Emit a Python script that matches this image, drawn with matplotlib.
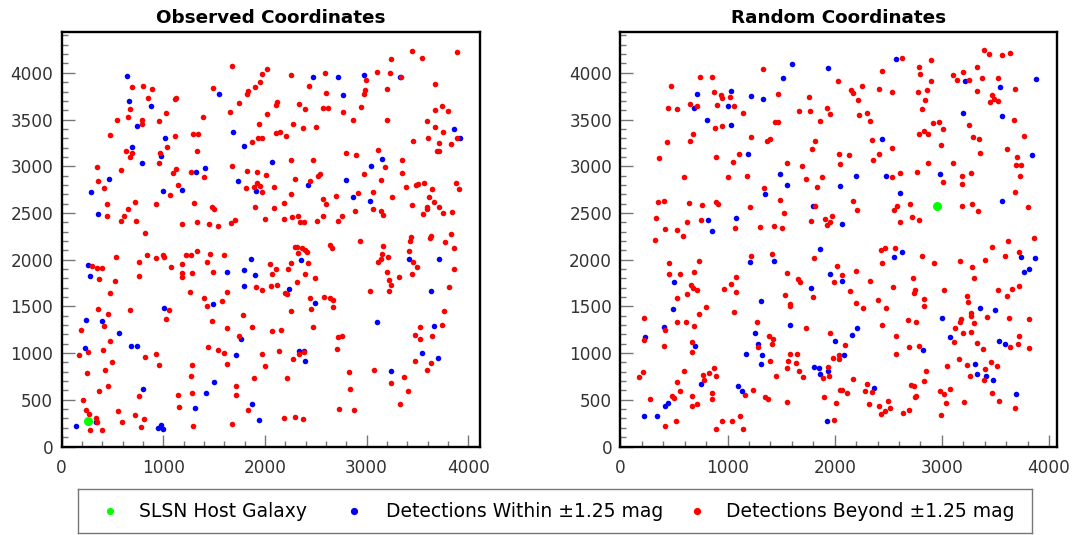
import matplotlib
matplotlib.use("Agg")
import matplotlib.pyplot as plt
from matplotlib.ticker import MultipleLocator

plt.rcParams['font.family'] = ['DejaVu Sans']

# ---- Observed coordinates (left panel) ----
obs_host = (260, 270)

obs_blue = [
    (640, 3970), (660, 3700), (880, 3650), (740, 3430), (1020, 3300), (690, 3210), (980, 3110),
    (790, 3040), (470, 2860), (290, 2720), (1000, 2740), (1180, 2750), (1320, 2940), (1410, 2980),
    (1550, 3770), (1690, 3370), (1790, 3220), (1730, 2840), (1910, 2730), (360, 2490),
    (2470, 3960), (2720, 3960), (2970, 3980), (3330, 3960), (2770, 3760), (3860, 3400), (3920, 3300),
    (2070, 3050), (3150, 3080), (3040, 3000), (2420, 2800), (2800, 2850), (2870, 2670), (3030, 2630),
    (260, 1940), (280, 1830), (1860, 2010), (1630, 1870), (1790, 1890), (1900, 1840), (1790, 1720),
    (1490, 1530), (1010, 1480), (240, 1350), (400, 1340), (560, 1220), (1760, 1150), (230, 1050),
    (680, 1080), (740, 1080), (1710, 980), (1500, 690), (800, 620), (1420, 570), (1310, 410),
    (1870, 450), (1940, 280), (140, 220), (340, 260), (950, 200), (980, 230), (1000, 190),
    (2350, 2000), (3420, 2010), (3710, 2010), (2240, 1690), (2490, 1540), (3630, 1660), (3100, 1330),
    (3660, 1290), (2330, 1020), (2380, 1020), (2390, 920), (3540, 1000), (3700, 950), (3240, 810),
]

obs_red = [
    (1680, 4070), (1970, 3990), (690, 3850), (800, 3860), (890, 3830), (1490, 3840), (1950, 3900),
    (1900, 3850), (1830, 3810), (1820, 3770), (850, 3730), (1120, 3730), (1110, 3720), (1740, 3680),
    (670, 3610), (1030, 3570), (1660, 3580), (650, 3530), (540, 3490), (790, 3490), (790, 3450),
    (960, 3480), (1390, 3530), (1940, 3450), (480, 3330), (1110, 3320), (1290, 3350), (1340, 3350),
    (1930, 3300), (1970, 3300), (1870, 3260), (1040, 3210), (630, 3160), (690, 3140), (670, 3100),
    (970, 3140), (1330, 3160), (960, 3040), (350, 2990), (580, 2960), (1120, 2970), (1090, 2930),
    (1270, 2940), (1400, 2890), (1680, 3000), (1820, 2950), (1920, 2940), (360, 2840), (420, 2770),
    (1140, 2800), (1070, 2690), (1810, 2770), (1890, 2780), (1920, 2820), (1950, 2790), (1970, 2720),
    (450, 2600), (720, 2620), (930, 2600), (1300, 2610), (650, 2540), (1480, 2560), (1500, 2540),
    (1900, 2560), (450, 2470), (610, 2470), (580, 2410), (730, 2410), (820, 2290), (1180, 2380),
    (1330, 2400), (1450, 2380), (1540, 2360), (1670, 2390), (1700, 2420),
    (3450, 4230), (3890, 4220), (3240, 4150), (3540, 4160), (2020, 4040), (2260, 3980), (2590, 4000),
    (3100, 4010), (3230, 4000), (3340, 3960), (2990, 3920), (2430, 3860), (3670, 3880), (2600, 3780),
    (2980, 3820), (2970, 3770), (3200, 3830), (2120, 3690), (2110, 3660), (2330, 3670), (2390, 3610),
    (2570, 3620), (2620, 3620), (2940, 3630), (2770, 3580), (3740, 3640), (3670, 3600), (3800, 3590),
    (2020, 3560), (2870, 3500), (3200, 3500), (3590, 3480), (2280, 3450), (2370, 3410), (2500, 3420),
    (3670, 3420), (3750, 3370), (2110, 3360), (2150, 3370), (2210, 3320), (3460, 3270), (3600, 3300),
    (3890, 3300), (3710, 3250), (3830, 3240), (3110, 3170), (2800, 3140), (2900, 3120), (3690, 3160),
    (3710, 3160), (2260, 3070), (2470, 3070), (3350, 3070), (3180, 2990), (2970, 2920), (3350, 2930),
    (2010, 2910), (2540, 2920), (2520, 2900), (2300, 2860), (2440, 2840), (3140, 2850), (2090, 2780),
    (3390, 2780), (3490, 2800), (3510, 2810), (3560, 2820), (3640, 2760), (3880, 2820), (3910, 2760),
    (2260, 2700), (2910, 2710), (3060, 2720), (2700, 2680), (3250, 2670), (3610, 2670), (3660, 2620),
    (2190, 2610), (2570, 2650), (2600, 2600), (3450, 2590), (3590, 2560), (3590, 2540), (3710, 2560),
    (2090, 2550), (2890, 2520), (3060, 2540), (3140, 2520), (3160, 2480), (3750, 2500), (3840, 2510),
    (3550, 2490), (2270, 2460), (2320, 2470), (2190, 2440), (2000, 2440), (2570, 2470), (2760, 2470),
    (2340, 2400), (2380, 2400), (2510, 2410), (2720, 2410), (3830, 2280), (3630, 2250), (3620, 2230),
    (3440, 2240),
    (300, 1930), (350, 1910), (400, 1910), (530, 2030), (840, 2050), (930, 2020), (1000, 2050),
    (1010, 2030), (760, 1980), (1080, 1920), (1220, 2050), (1270, 2050), (1330, 2090), (1460, 2060),
    (1600, 2050), (1430, 1980), (1180, 1950), (1180, 1860), (1280, 1860), (1180, 1810), (1490, 1870),
    (370, 1790), (520, 1770), (760, 1830), (1910, 1710), (1970, 1680), (480, 1640), (1260, 1650),
    (1630, 1650), (1400, 1590), (1580, 1560), (1430, 1500), (360, 1470), (460, 1420), (670, 1460),
    (1060, 1460), (1030, 1370), (1480, 1340), (190, 1250), (420, 1290), (1630, 1270), (1780, 1410),
    (1870, 1280), (1740, 1180), (480, 1130), (1440, 1060), (1540, 1030), (1600, 1000), (170, 980),
    (260, 1010), (410, 1030), (820, 960), (930, 990), (960, 870), (1630, 880), (1970, 990),
    (2000, 860), (490, 900), (1280, 870), (250, 790), (430, 820), (1270, 750), (1890, 730),
    (460, 650), (1710, 650), (370, 590), (1280, 570), (1140, 550), (1710, 550), (760, 540),
    (210, 500), (1150, 420), (240, 390), (550, 380), (1830, 390), (270, 350), (340, 310),
    (720, 340), (810, 290), (350, 260), (590, 260), (1680, 240), (780, 210), (1290, 220),
    (280, 180), (400, 180),
    (2930, 2200), (2640, 2160), (2660, 2120), (2300, 2140), (2310, 2140), (2360, 2120), (2390, 2100),
    (2410, 2080), (2320, 2070), (3160, 2150), (3210, 2030), (3150, 2060), (3140, 2010), (3110, 1970),
    (3420, 2090), (3430, 2200), (3460, 1970), (3500, 1920), (3450, 1850), (3770, 2190), (3860, 2130),
    (3860, 1900), (3810, 1710), (2050, 1950), (2260, 1960), (2230, 1900), (2110, 1900), (2070, 1850),
    (2420, 1960), (2390, 1850), (2490, 1800), (2310, 1760), (2060, 1720), (2120, 1730), (2200, 1640),
    (2220, 1630), (3200, 1870), (3320, 1810), (3220, 1780), (3240, 1730), (3220, 1660), (3030, 1660),
    (2440, 1590), (2580, 1600), (2640, 1590), (2670, 1570), (2670, 1490), (2450, 1470), (2260, 1450),
    (3760, 1450), (2070, 1240), (2160, 1250), (2470, 1280), (3520, 1280), (3740, 1300), (3480, 1190),
    (3520, 1150), (3640, 1180), (2720, 1170), (2760, 1180), (2710, 1040), (2140, 1020), (2330, 990),
    (2380, 1010), (2280, 940), (3480, 920), (3630, 890), (3590, 820), (3070, 820), (2830, 800),
    (3370, 740), (2220, 730), (3240, 680), (2840, 620), (3410, 590), (3330, 460), (2730, 400),
    (2880, 390), (2190, 310), (2300, 320), (2370, 290),
]

# ---- Random coordinates (right panel) ----
rnd_host = (2950, 2570)

rnd_blue = [
    (710, 3770), (1030, 3810), (1220, 3750), (1330, 3720), (690, 3620), (1000, 3640), (810, 3500),
    (1030, 3440), (1190, 3130), (1350, 2700), (820, 2420), (1080, 2450), (850, 2310),
    (1600, 4090), (1940, 4050), (2570, 4150), (1520, 3950), (2440, 3290), (1490, 2920), (1550, 2800),
    (2200, 2900), (2480, 2900), (2050, 2790), (2610, 2710), (2980, 2920), (1800, 2570), (2070, 2380),
    (3220, 3910), (3540, 3850), (3880, 3930), (3200, 3570), (3560, 3540), (3840, 3120), (3560, 2630),
    (3740, 2030), (3870, 2020), (3770, 1870), (3810, 1900), (3360, 1480), (3500, 1460), (3000, 1380),
    (3080, 1170), (3530, 1130), (3590, 1100), (3310, 880), (3330, 780), (3410, 750), (3480, 710),
    (3690, 560),
    (1210, 1970), (500, 1760), (490, 1470), (1310, 1560), (410, 1280), (230, 1170), (1260, 1220),
    (1280, 1100), (700, 1080), (1170, 990), (1320, 980), (1310, 880), (750, 670), (1100, 650),
    (1130, 590), (440, 470), (420, 430), (220, 330), (340, 330),
    (1860, 2110), (2630, 2080), (2550, 2030), (1430, 1990), (1960, 1850), (2070, 1770), (1780, 1700),
    (1580, 1300), (2210, 1270), (2160, 1190), (2000, 1130), (2090, 980), (2820, 1030), (1810, 850),
    (1850, 840), (1940, 810), (1860, 780), (2370, 630), (1930, 270),
]

rnd_red = [
    (1330, 4040), (740, 3960), (850, 3960), (470, 3860), (870, 3800), (940, 3760), (950, 3730),
    (1020, 3740), (650, 3670), (710, 3650), (900, 3660), (1060, 3650), (440, 3620), (530, 3610),
    (1140, 3570), (880, 3410), (950, 3430), (680, 3350), (650, 3270), (430, 3260), (1220, 3310),
    (1370, 3270), (360, 3090), (890, 3100), (1110, 3130), (1050, 3050), (590, 2890), (1000, 2880),
    (1180, 2900), (1340, 2770), (350, 2620), (410, 2630), (640, 2610), (760, 2590), (890, 2620),
    (910, 2600), (1210, 2560), (330, 2450), (620, 2400), (750, 2420), (420, 2330), (530, 2320),
    (580, 2250), (1070, 2340), (1300, 2350),
    (2630, 4160), (2900, 4140), (2790, 4060), (2800, 3990), (2440, 4020), (2030, 3910), (2900, 3910),
    (2250, 3860), (2150, 3820), (2170, 3780), (2410, 3830), (2530, 3800), (2780, 3800), (2860, 3820),
    (2840, 3710), (2810, 3610), (1470, 3770), (1760, 3740), (2220, 3710), (1670, 3590), (1770, 3590),
    (1930, 3620), (1960, 3560), (2300, 3570), (2230, 3550), (2330, 3480), (1860, 3480), (1440, 3470),
    (1470, 3470), (2920, 3460), (2970, 3470), (2790, 3350), (2830, 3380), (2870, 3340), (1400, 3290),
    (1820, 3270), (1790, 3180), (2350, 3280), (2530, 3200), (2040, 3130), (2130, 3120), (2410, 3130),
    (2360, 3070), (1550, 3030), (1690, 3000), (2050, 3020), (2870, 3040), (1730, 2860), (1880, 2890),
    (1830, 2780), (2530, 2880), (2610, 2930), (2770, 2940), (1490, 2640), (1530, 2500), (1820, 2570),
    (2170, 2630), (2210, 2530), (2580, 2570), (2550, 2530), (2700, 2600), (2720, 2460), (2790, 2420),
    (2610, 2400), (1780, 2410), (1910, 2440), (1970, 2470), (1960, 2400), (1930, 2370), (1430, 2360),
    (1510, 2340),
    (3390, 4240), (3440, 4200), (3560, 4190), (3640, 4210), (3330, 4060), (3100, 3980), (3140, 3920),
    (3200, 4010), (3250, 3920), (3370, 3940), (3520, 3940), (3330, 3810), (3680, 3830), (3470, 3760),
    (3450, 3690), (3490, 3720), (3520, 3700), (3010, 3400), (3250, 3440), (3290, 3310), (3350, 3290),
    (3670, 3500), (3770, 3320), (2990, 3230), (3360, 3140), (3610, 3190), (3700, 3100), (3100, 3040),
    (3190, 2900), (3270, 2930), (3690, 3010), (3740, 3010), (3730, 2900), (3010, 2830), (3190, 2810),
    (3680, 2720), (3190, 2570), (3280, 2600), (3340, 2520), (3800, 2560), (3860, 2230), (3470, 2140),
    (3620, 2200), (3720, 2080), (3590, 2040), (3170, 1990), (3400, 2000), (3280, 1920), (3300, 1800),
    (3020, 1680), (3230, 1610), (3240, 1550), (3520, 1680), (3650, 1690), (3720, 1720), (3610, 1610),
    (3270, 1430), (3270, 1400), (3300, 1320), (3420, 1390), (3630, 1380), (3810, 1360), (3180, 1370),
    (3170, 1330), (3120, 1270), (3200, 1210), (3270, 1230), (3110, 1120), (3330, 1110), (3380, 1040),
    (3720, 1180), (3710, 1100), (3640, 1070), (3810, 1050), (3050, 860), (3160, 940), (3230, 870),
    (3460, 900), (3510, 860), (3400, 830), (3260, 760), (3390, 710), (3080, 620), (3020, 560),
    (3040, 470), (3470, 570), (3530, 490), (3210, 480), (3680, 410), (2990, 340),
    (320, 2210), (1220, 2040), (450, 1960), (730, 1990), (450, 1850), (560, 1850), (690, 1870),
    (660, 1730), (680, 1700), (710, 1670), (620, 1630), (530, 1590), (1030, 1740), (970, 1690),
    (1080, 1810), (1080, 1650), (800, 1490), (730, 1420), (1060, 1440), (220, 1380), (530, 1330),
    (610, 1330), (690, 1290), (1270, 1330), (420, 1250), (410, 1080), (220, 1140), (670, 1120),
    (670, 1010), (1390, 1180), (1280, 1060), (210, 800), (170, 740), (590, 810), (870, 840),
    (830, 790), (770, 770), (780, 710), (890, 750), (530, 690), (560, 590), (1240, 610),
    (1160, 550), (850, 570), (850, 510), (480, 540), (500, 520), (280, 510), (670, 540),
    (710, 460), (670, 430), (1350, 530), (1380, 510), (950, 270), (1040, 270), (1120, 330),
    (520, 270), (420, 220), (890, 190), (1140, 190),
    (1410, 2060), (2470, 2130), (2430, 2100), (2560, 2120), (1810, 2020), (2440, 1960), (2810, 2040),
    (2930, 1960), (1550, 1860), (2020, 1930), (2070, 1840), (2200, 1880), (1660, 1790), (1680, 1760),
    (1990, 1760), (2330, 1770), (2730, 1800), (2540, 1710), (2140, 1660), (1540, 1620), (1800, 1600),
    (1580, 1530), (1580, 1500), (2750, 1670), (2740, 1640), (2830, 1580), (2830, 1500), (2400, 1570),
    (2200, 1540), (2260, 1480), (2480, 1480), (2680, 1350), (2760, 1330), (1730, 1270), (2440, 1300),
    (1960, 1210), (2570, 1180), (1420, 1150), (1410, 1100), (2100, 1090), (2690, 1070), (2790, 1080),
    (1980, 950), (2040, 980), (2040, 940), (2570, 990), (1400, 910), (1580, 990), (1650, 990),
    (1560, 910), (1640, 890), (1550, 840), (1670, 810), (1940, 850), (1450, 750), (1700, 740),
    (1890, 730), (1950, 760), (2170, 720), (2850, 810), (2300, 670), (2280, 590), (2350, 580),
    (2050, 600), (2070, 600), (2110, 570), (2710, 660), (2740, 650), (2760, 540), (2750, 530),
    (2830, 700), (2980, 590), (1900, 530), (1550, 480), (2010, 470), (2320, 460), (2410, 430),
    (2500, 490), (2520, 410), (2470, 380), (2430, 350), (2640, 360), (2690, 390), (1990, 280),
]

RED = '#ff0000'
BLUE = '#0000ff'
GREEN = '#00ff00'

legend_labels = ['SLSN Host Galaxy', 'Detections Within \u00b11.25 mag',
                 'Detections Beyond \u00b11.25 mag']
legend_colors = [GREEN, BLUE, RED]


def draw_panel(ax, red, blue, host, title, xmax):
    bx, by = zip(*blue)
    rx, ry = zip(*red)
    ax.scatter(bx, by, s=16, c=BLUE, linewidths=0, zorder=2)
    ax.scatter(rx, ry, s=16, c=RED, linewidths=0, zorder=3)
    ax.scatter([host[0]], [host[1]], s=42, c=GREEN, linewidths=0, zorder=4)
    ax.set_xlim(0, xmax)
    ax.set_ylim(0, 4440)
    ax.xaxis.set_major_locator(MultipleLocator(1000))
    ax.xaxis.set_minor_locator(MultipleLocator(200))
    ax.yaxis.set_major_locator(MultipleLocator(500))
    ax.yaxis.set_minor_locator(MultipleLocator(100))
    ax.tick_params(which='both', direction='in', top=False, right=False,
                   color='#777777', width=1.0)
    ax.tick_params(which='major', length=9, labelsize=12.2, labelcolor='#333333')
    ax.tick_params(which='minor', length=4.5)
    ax.tick_params(axis='y', which='major', pad=6)
    ax.tick_params(axis='x', which='major', pad=9)
    for sp in ax.spines.values():
        sp.set_linewidth(1.7)
        sp.set_color('black')
    ax.set_title(title, fontsize=13.2, fontweight='bold', pad=6)


fig = plt.figure(figsize=(10.75, 5.35), dpi=100)

ax1 = fig.add_axes([0.0574, 0.1654, 0.3891, 0.7753])
draw_panel(ax1, obs_red, obs_blue, obs_host, 'Observed Coordinates', 4115)

ax2 = fig.add_axes([0.5772, 0.1654, 0.4058, 0.7753])
draw_panel(ax2, rnd_red, rnd_blue, rnd_host, 'Random Coordinates', 4072)

# legend box, entries placed like the original
axl = fig.add_axes([0.0721, 0.0037, 0.8879, 0.0822])
axl.set_xlim(0, 1)
axl.set_ylim(0, 1)
axl.set_xticks([])
axl.set_yticks([])
for sp in axl.spines.values():
    sp.set_color('#777777')
    sp.set_linewidth(1.0)
marker_pos = [0.034, 0.2897, 0.649]
text_pos = [0.0644, 0.3233, 0.6794]
for mx, tx, lab, col in zip(marker_pos, text_pos, legend_labels, legend_colors):
    axl.plot([mx], [0.5], ls='none', marker='o', ms=5.2, mfc=col, mec='none')
    axl.text(tx, 0.5, lab, fontsize=13.5, ha='left', va='center')

fig.savefig('out.png', dpi=100)
